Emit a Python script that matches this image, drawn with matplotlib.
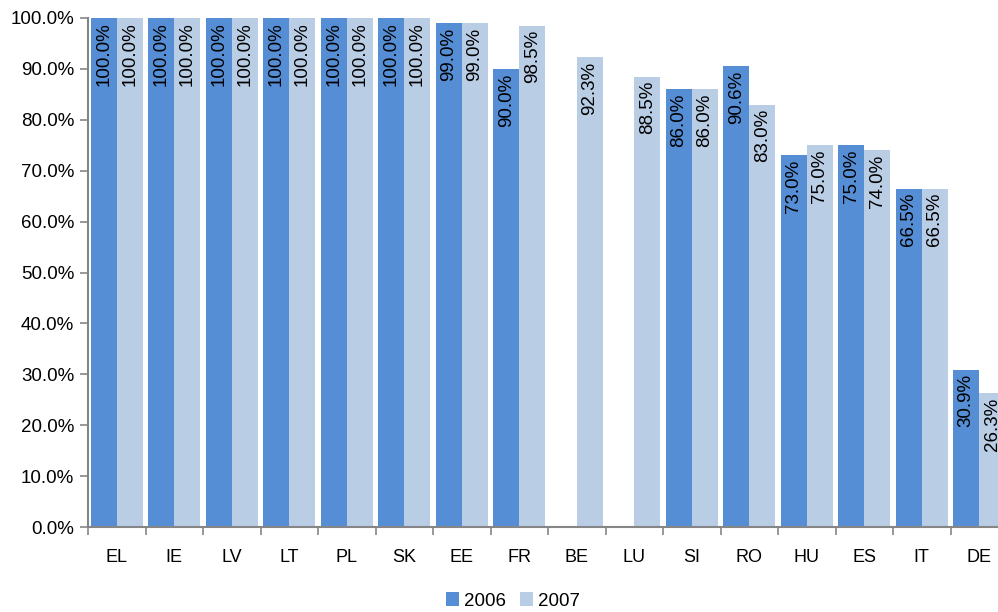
import numpy as np
import matplotlib
matplotlib.use("Agg")
import matplotlib.pyplot as plt
from matplotlib.ticker import FuncFormatter, FixedLocator

plt.rcParams["font.family"] = ["Liberation Sans", "DejaVu Sans"]

countries = ["EL", "IE", "LV", "LT", "PL", "SK", "EE", "FR",
             "BE", "LU", "SI", "RO", "HU", "ES", "IT", "DE"]
share_2006 = [100.0, 100.0, 100.0, 100.0, 100.0, 100.0, 99.0, 90.0,
              np.nan, np.nan, 86.0, 90.6, 73.0, 75.0, 66.5, 30.9]
share_2007 = [100.0, 100.0, 100.0, 100.0, 100.0, 100.0, 99.0, 98.5,
              92.3, 88.5, 86.0, 83.0, 75.0, 74.0, 66.5, 26.3]
years = ["2006", "2007"]

C06 = "#558ED5"
C07 = "#B9CDE5"
GREY = "#868686"

fig = plt.figure(figsize=(9.98, 6.12), dpi=100)
# plot area runs slightly past the right edge, the last group is clipped
ax = fig.add_axes([88 / 998, 1 - 527 / 612, 920 / 998, 509 / 612])

x = np.arange(len(countries))
w = 0.45
b1 = ax.bar(x - w / 2, share_2006, w, color=C06, label=years[0])
b2 = ax.bar(x + w / 2, share_2007, w, color=C07, label=years[1])

for bars, vals in ((b1, share_2006), (b2, share_2007)):
    for rect, v in zip(bars, vals):
        if np.isnan(v):
            continue
        ax.text(rect.get_x() + rect.get_width() / 2, v - 0.9, f"{v:.1f}%",
                rotation=90, ha="center", va="top", fontsize=13.5,
                color="black", clip_on=False)

ax.set_xlim(-0.5, len(countries) - 0.5)
ax.set_ylim(0, 100)
ax.set_yticks(np.arange(0, 101, 10))
ax.yaxis.set_major_formatter(FuncFormatter(lambda v, _: f"{v:.1f}%"))

ax.set_xticks(x)
ax.set_xticklabels(countries)
ax.xaxis.set_minor_locator(FixedLocator(np.arange(-0.5, len(countries), 1.0)))
ax.tick_params(axis="x", which="major", length=0, pad=16, labelsize=13)
ax.tick_params(axis="x", which="minor", length=6, width=1.2, color=GREY)
ax.tick_params(axis="y", length=6, width=1.2, color=GREY, labelsize=13.5, pad=4)

for side in ("top", "right"):
    ax.spines[side].set_visible(False)
for side in ("left", "bottom"):
    ax.spines[side].set_color(GREY)
    ax.spines[side].set_linewidth(1.5)

fig.legend(handles=[b1, b2], loc="center", bbox_to_anchor=(513 / 998, 1 - 601 / 612),
           ncol=2, frameon=False, fontsize=13.5, handlelength=0.7,
           handleheight=0.7, handletextpad=0.3, columnspacing=0.7)

fig.savefig("out.png", dpi=100)
